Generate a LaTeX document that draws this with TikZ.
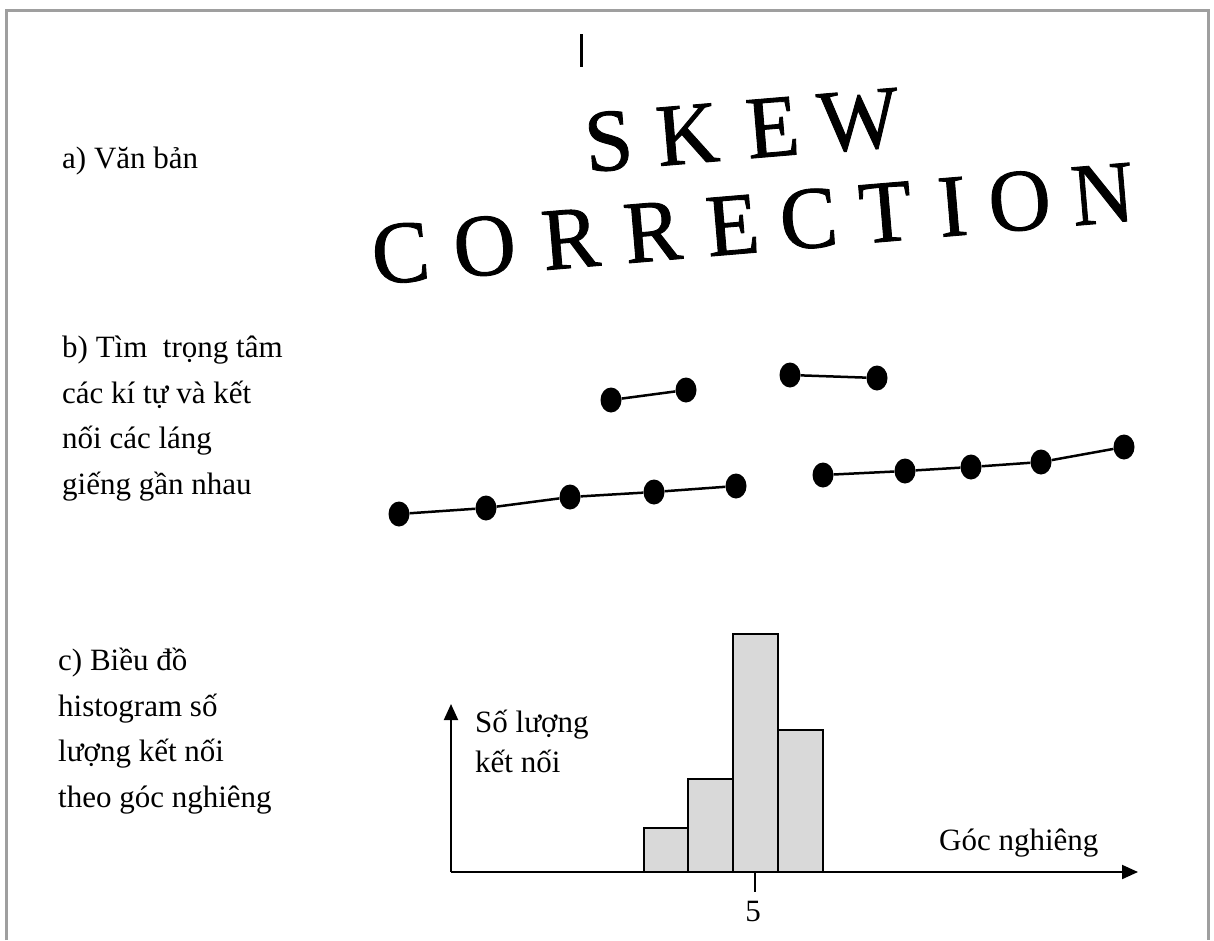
\documentclass[tikz,border=0pt]{standalone}
\usepackage{fontspec}
\setmainfont{Liberation Serif}
\newfontfamily\skewfont[FakeBold=1]{Liberation Serif}
\usetikzlibrary{arrows.meta,positioning,shapes.geometric}

\tikzset{
  lbl/.style={anchor=base west, align=left, inner sep=0pt,
    font=\fontsize{31}{45.5}\selectfont},
  bigletter/.style={anchor=base, rotate=4.8, inner sep=0pt, yscale=1.03,
    font=\skewfont\fontsize{86}{86}\selectfont},
  centroid/.style={ellipse, fill=black, minimum width=21pt,
    minimum height=25pt, inner sep=0pt},
  link/.style={line width=2.5pt},
  bar/.style={draw, fill=gray!30, line width=1.6pt},
  axis/.style={line width=2pt, -{Triangle[length=16pt,width=14pt]}},
}

\begin{document}
\begin{tikzpicture}[x=1pt,y=-1pt]
  \useasboundingbox (0,0) rectangle (1214,940);
  % frame
  \draw[gray!75, line width=3pt] (6,940) -- (6,10) -- (1208,10) -- (1208,940);
  \draw[line width=3pt] (581,34) -- (581,67);

  % labels on the left (base = last line)
  \node[lbl] (lblA) at (62,168) {a) Văn bản};
  \node[lbl] (lblB) at (62,494) {b) Tìm\ \ trọng tâm\\các kí tự và kết\\nối các láng\\giếng gần nhau};
  \node[lbl] (lblC) at (58,807) {c) Biều đồ\\histogram số\\lượng kết nối\\theo góc nghiêng};

  % a) skewed text
  \foreach \ch/\px in {S/611,K/690,E/775,W/861}
    \node[bigletter] (s\px) at (\px,{170-(\px-611)*0.084}) {\ch};
  \foreach \ch/\px in {C/403,O/487,R/573,R/655,E/735,C/811,T/888,I/955,O/1022,N/1105}
    \node[bigletter] (c\px) at (\px,{282-(\px-403)*0.084}) {\ch};

  % b) centroids
  \foreach \n/\x/\y in {a1/399/514,a2/486/508,a3/570/497,a4/654/492,a5/736/486,
      b1/823/475,b2/905/471,b3/971/467,b4/1041/462,b5/1124/447,
      u1/611/400,u2/686/390,v1/790/375,v2/877/378}
    \node[centroid] (\n) at (\x,\y) {};
  \draw[link] (a1) -- (a2) -- (a3) -- (a4) -- (a5);
  \draw[link] (b1) -- (b2) -- (b3) -- (b4) -- (b5);
  \draw[link] (u1) -- (u2);
  \draw[link] (v1) -- (v2);

  % c) histogram
  \foreach \l/\r/\t in {644/688/828,688/733/779,733/778/634,778/823/730}
    \draw[bar] (\l,872) rectangle (\r,\t);
  \coordinate (org) at (451,872);
  \coordinate (ytip) at (451,704);
  \coordinate (xtip) at (1138,872);
  \coordinate (tick) at (755,872);
  \coordinate (tickend) at (755,892);
  \draw[axis] (org) -- (ytip);
  \draw[axis] (org) -- (xtip);
  \draw[line width=1.6pt] (tick) -- (tickend);
  \node[lbl, anchor=base] (five) at (753,921) {5};
  \node[lbl, font=\fontsize{31}{40}\selectfont] (ylab) at (475,772) {Số lượng\\kết nối};
  \node[lbl] (xlab) at (939,850) {Góc nghiêng};
\end{tikzpicture}
\end{document}
